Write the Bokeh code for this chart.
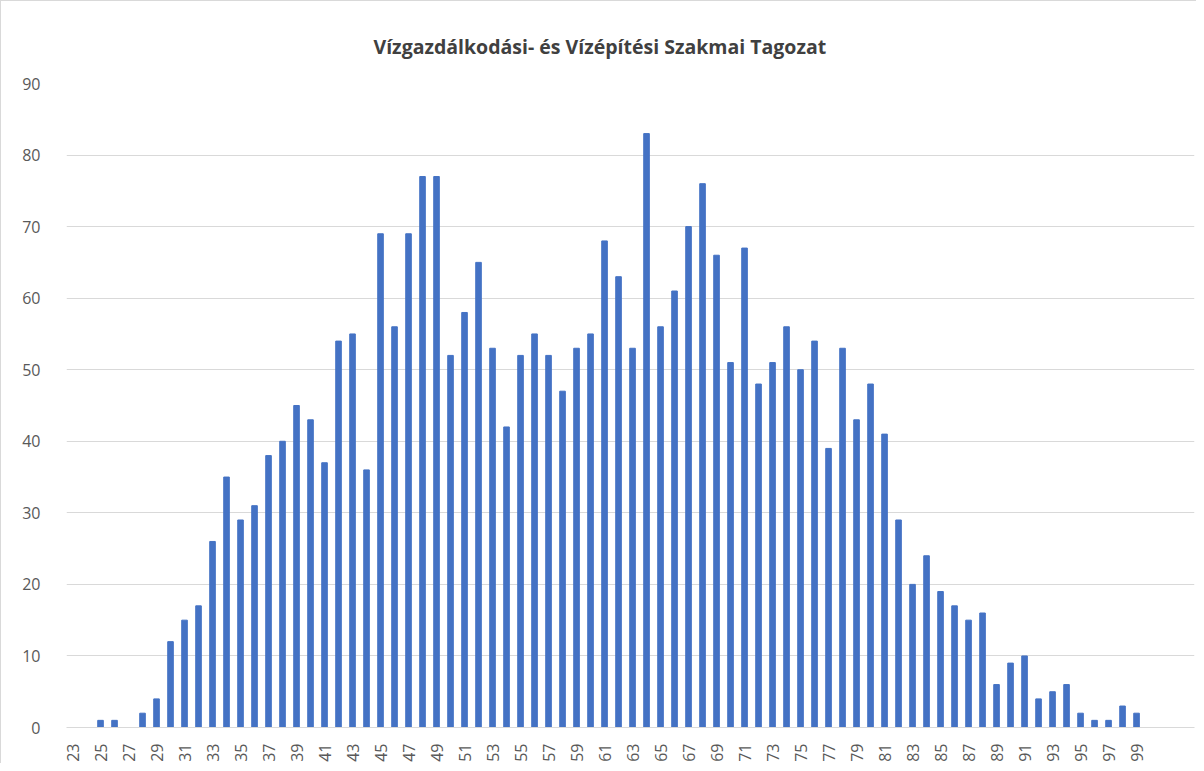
from bokeh.plotting import figure
from bokeh.models import Range1d, FixedTicker, ColumnDataSource
from bokeh.embed import file_html
from bokeh.resources import INLINE

# Data
scores = list(range(23, 100))
counts = [0, 0, 1, 1, 0, 2, 4, 12, 15, 17,      # 23-32
          26, 35, 29, 31, 38, 40, 45, 43, 37, 54,  # 33-42
          55, 36, 69, 56, 69, 77, 77, 52, 58, 65,  # 43-52
          53, 42, 52, 55, 52, 47, 53, 55, 68, 63,  # 53-62
          53, 83, 56, 61, 70, 76, 66, 51, 67, 48,  # 63-72
          51, 56, 50, 54, 39, 53, 43, 48, 41, 29,  # 73-82
          20, 24, 19, 17, 15, 16, 6, 9, 10, 4,     # 83-92
          5, 6, 2, 1, 1, 3, 2]                     # 93-99
x_tick_labels = list(range(23, 100, 2))
y_ticks = list(range(0, 91, 10))
title_text = "Vízgazdálkodási- és Vízépítési Szakmai Tagozat"

src = ColumnDataSource(data=dict(x=scores, top=counts))

p = figure(width=1196, height=763, output_backend="svg", toolbar_location=None,
           x_range=Range1d(22.57, 103.14), y_range=Range1d(0, 90),
           title=title_text,
           min_border_left=65, min_border_right=3, min_border_top=82, min_border_bottom=35)

p.vbar(x="x", top="top", width=0.4, source=src, color="#4472C4")

p.title.align = "left"
p.title.text_font = "Open Sans"
p.title.text_font_size = "19.5px"
p.title.text_font_style = "bold"
p.title.text_color = "#404040"
p.title.offset = 307
p.title.standoff = 48

p.xaxis.ticker = FixedTicker(ticks=x_tick_labels)
p.xaxis.major_label_orientation = 1.5708
p.xaxis.axis_line_color = "#d9d9d9"
p.xaxis.major_tick_line_color = None
p.xaxis.minor_tick_line_color = None
p.xaxis.major_label_text_font = "Open Sans"
p.xaxis.major_label_text_font_size = "16px"
p.xaxis.major_label_text_color = "#595959"
p.xaxis.major_label_standoff = 10

p.yaxis.ticker = FixedTicker(ticks=y_ticks)
p.yaxis.axis_line_color = None
p.yaxis.major_tick_line_color = None
p.yaxis.minor_tick_line_color = None
p.yaxis.major_label_text_font = "Open Sans"
p.yaxis.major_label_text_font_size = "16px"
p.yaxis.major_label_text_color = "#595959"
p.yaxis.major_label_standoff = 20

p.xgrid.grid_line_color = None
p.ygrid.grid_line_color = "#d9d9d9"
p.ygrid.grid_line_width = 1
p.outline_line_color = None
p.background_fill_color = "white"
p.border_fill_color = "white"
p.styles = {"border-left": "1px solid #d9d9d9", "border-top": "1px solid #d9d9d9"}

open("out.html", "w").write(file_html(p, INLINE))
